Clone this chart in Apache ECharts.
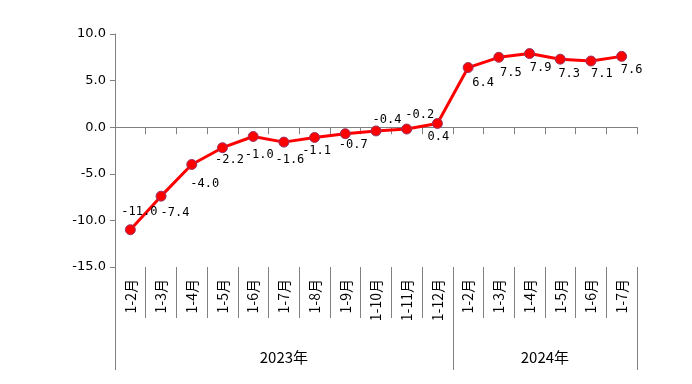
<!DOCTYPE html>
<html>
<head>
<meta charset="utf-8">
<script src="https://cdn.jsdelivr.net/npm/echarts@6/dist/echarts.min.js"></script>
<style>
html,body{margin:0;padding:0;background:#fff;}
#chart{width:692px;height:384px;}
</style>
</head>
<body>
<div id="chart"></div>
<script>
var categories = ['1-2月','1-3月','1-4月','1-5月','1-6月','1-7月','1-8月','1-9月','1-10月','1-11月','1-12月',
                  '1-2月','1-3月','1-4月','1-5月','1-6月','1-7月'];
var values = [-11.0, -7.4, -4.0, -2.2, -1.0, -1.6, -1.1, -0.7, -0.4, -0.2, 0.4, 6.4, 7.5, 7.9, 7.3, 7.1, 7.6];
var years = ['2023年', '2024年'];
var yearSpans = [11, 6];
var yTicks = [-15, -10, -5, 0, 5, 10];
// label offsets (pixels, relative to point centre)
var labelOffsets = [[9,-18],[14,17],[13,19],[7,12],[6,18],[6,18],[2,13],[8,11],[11,-11],[13,-14],[1,13],
                    [15,15],[12,16],[11,14],[9,15],[11,13],[10,14]];

var yearBounds = [0];
var yearCenters = [];
var acc = 0;
yearSpans.forEach(function(s){ yearCenters.push(acc + s/2); acc += s; yearBounds.push(acc); });

var chart = echarts.init(document.getElementById('chart'), null, {renderer:'canvas'});
var axisColor = '#808080';
chart.setOption({
  animation: false,
  backgroundColor: '#fff',
  grid: {left:115, right:55, top:34, bottom:117, containLabel:false},
  xAxis: [
    {
      type:'category', data:categories, position:'bottom', boundaryGap:true,
      axisLine:{show:true, onZero:true, lineStyle:{color:axisColor, width:1}},
      axisTick:{show:true, interval:0, length:7, lineStyle:{color:axisColor}},
      axisLabel:{show:false}, splitLine:{show:false}
    },
    {
      type:'category', data:categories, position:'bottom', boundaryGap:true,
      axisLine:{show:false, onZero:false},
      axisTick:{show:true, interval:0, length:51, lineStyle:{color:axisColor}},
      axisLabel:{show:true, interval:0, rotate:90, margin:12, color:'#000',
                 fontFamily:'Noto Sans CJK SC', fontSize:14},
      splitLine:{show:false}
    },
    {
      type:'value', min:0, max:categories.length, position:'bottom',
      axisLine:{show:false, onZero:false},
      axisTick:{show:true, length:103, customValues:yearBounds, lineStyle:{color:axisColor}},
      axisLabel:{show:true, customValues:yearCenters, margin:83, color:'#000',
                 fontFamily:'Noto Sans CJK SC', fontSize:15,
                 formatter:function(v){ var i = yearCenters.indexOf(v); return i>=0 ? years[i] : ''; }},
      splitLine:{show:false}
    }
  ],
  yAxis: {
    type:'value', min:yTicks[0], max:yTicks[yTicks.length-1], interval:5,
    axisLine:{show:true, lineStyle:{color:axisColor}},
    axisTick:{show:true, length:5, lineStyle:{color:axisColor}},
    axisLabel:{color:'#000', fontFamily:'DejaVu Sans', fontSize:13, margin:9,
               formatter:function(v){return v.toFixed(1);}},
    splitLine:{show:false}
  },
  series: [{
    type:'line', xAxisIndex:0,
    data: values.map(function(v,i){
      return {value:v, label:{offset:labelOffsets[i]}};
    }),
    symbol:'circle', symbolSize:10,
    lineStyle:{color:'#ff0000', width:3},
    itemStyle:{color:'#ff0000', borderColor:'#993366', borderWidth:1},
    label:{show:true, position:'inside', color:'#000', fontFamily:'DejaVu Sans Mono', fontSize:12,
           formatter:function(p){return p.value.toFixed(1);}}
  }]
});
</script>
</body>
</html>
